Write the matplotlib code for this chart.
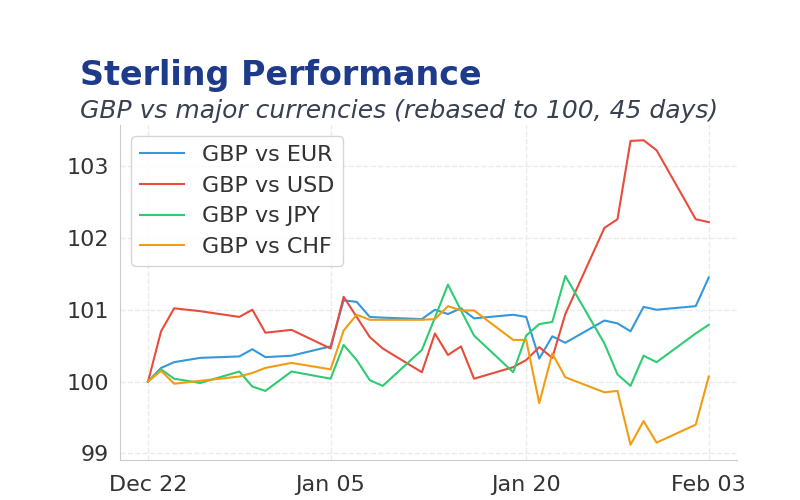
import numpy as np
import pandas as pd
import matplotlib
matplotlib.use("Agg")
import matplotlib.pyplot as plt
import matplotlib.dates as mdates

dates = pd.to_datetime([
    "2025-12-22", "2025-12-23", "2025-12-24", "2025-12-26", "2025-12-29",
    "2025-12-30", "2025-12-31", "2026-01-02", "2026-01-05", "2026-01-06",
    "2026-01-07", "2026-01-08", "2026-01-09", "2026-01-12", "2026-01-13",
    "2026-01-14", "2026-01-15", "2026-01-16", "2026-01-19", "2026-01-20",
    "2026-01-21", "2026-01-22", "2026-01-23", "2026-01-26", "2026-01-27",
    "2026-01-28", "2026-01-29", "2026-01-30", "2026-02-02", "2026-02-03",
])

gbp_eur = [100.00, 100.19, 100.27, 100.33, 100.35, 100.45, 100.34, 100.36, 100.49, 101.13,
           101.11, 100.90, 100.89, 100.87, 101.00, 100.94, 101.02, 100.88, 100.93, 100.90,
           100.32, 100.63, 100.54, 100.85, 100.81, 100.70, 101.04, 101.00, 101.05, 101.45]
gbp_usd = [100.00, 100.70, 101.02, 100.98, 100.90, 101.00, 100.68, 100.72, 100.46, 101.18,
           100.90, 100.62, 100.46, 100.13, 100.67, 100.37, 100.49, 100.04, 100.20, 100.30,
           100.48, 100.33, 100.94, 102.14, 102.26, 103.35, 103.36, 103.22, 102.26, 102.22]
gbp_jpy = [100.00, 100.17, 100.04, 99.98, 100.14, 99.93, 99.87, 100.14, 100.04, 100.51,
           100.30, 100.02, 99.94, 100.44, 100.89, 101.35, 100.99, 100.64, 100.13, 100.64,
           100.80, 100.83, 101.47, 100.53, 100.10, 99.94, 100.36, 100.27, 100.67, 100.79]
gbp_chf = [100.00, 100.15, 99.97, 100.01, 100.07, 100.12, 100.19, 100.26, 100.17, 100.71,
           100.93, 100.86, 100.86, 100.86, 100.87, 101.05, 100.99, 100.99, 100.58, 100.58,
           99.70, 100.39, 100.06, 99.85, 99.87, 99.12, 99.45, 99.15, 99.40, 100.07]

series = [
    ("GBP vs EUR", gbp_eur, "#3498db"),
    ("GBP vs USD", gbp_usd, "#e74c3c"),
    ("GBP vs JPY", gbp_jpy, "#2ecc71"),
    ("GBP vs CHF", gbp_chf, "#f39c12"),
]
tick_dates = pd.to_datetime(["2025-12-22", "2026-01-05", "2026-01-20", "2026-02-03"])

fig = plt.figure(figsize=(8, 5), dpi=100)
ax = fig.add_axes([0.15, 0.08, 0.771, 0.67])

for name, vals, col in series:
    ax.plot(dates, vals, color=col, lw=1.5, label=name)

ax.set_xticks(tick_dates)
ax.xaxis.set_major_formatter(mdates.DateFormatter("%b %d"))
ax.set_yticks([99, 100, 101, 102, 103])
ax.tick_params(length=0, labelsize=16, colors="#333333")
ax.tick_params(axis="x", pad=11)
ax.tick_params(axis="y", pad=8)
ax.grid(True, ls="--", color="#ebebeb", lw=1)
ax.set_axisbelow(True)
for s in ["top", "right"]:
    ax.spines[s].set_visible(False)
for s in ["left", "bottom"]:
    ax.spines[s].set_color("#cccccc")

leg = ax.legend(loc="upper left", fontsize=16, frameon=True, fancybox=True,
                edgecolor="#cccccc", borderpad=0.4, labelspacing=0.48)
for t in leg.get_texts():
    t.set_color("#333333")

fig.text(0.1, 0.85, "Sterling Performance", fontsize=24, fontweight="bold",
         color="#1e3a8a", ha="left", va="center")
fig.text(0.1, 0.778, "GBP vs major currencies (rebased to 100, 45 days)", fontsize=18,
         style="italic", color="#374151", ha="left", va="center")

fig.savefig("out.png", dpi=100)
